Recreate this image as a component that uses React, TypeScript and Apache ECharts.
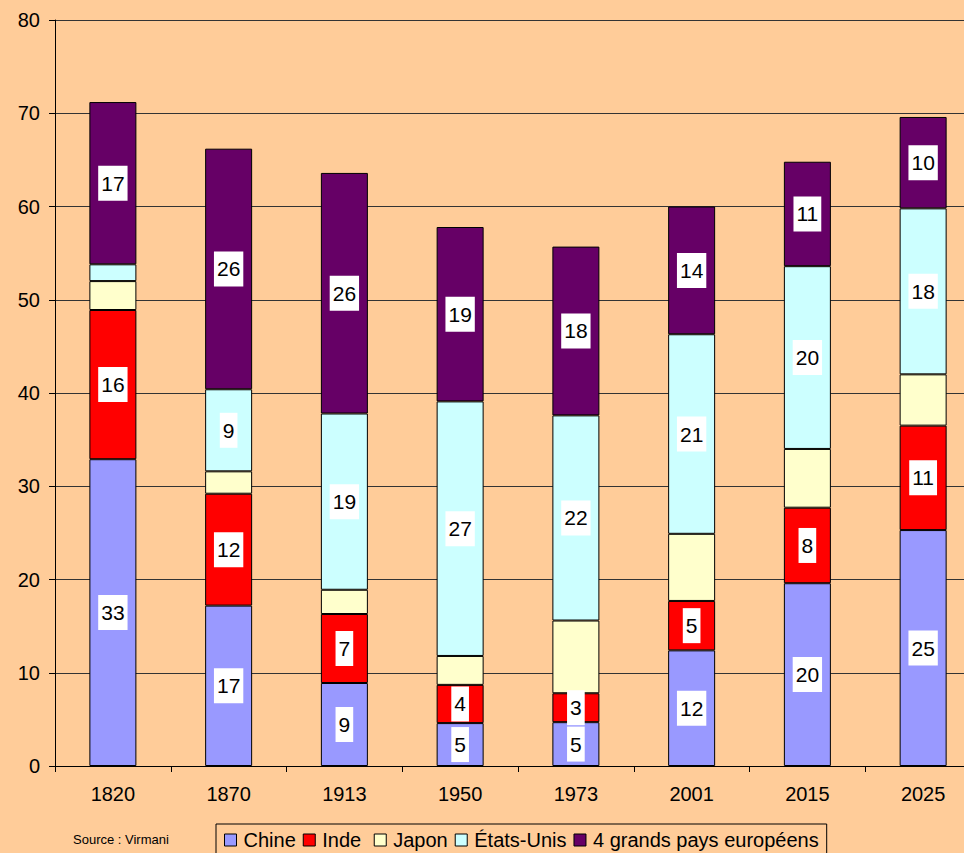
import React, { useEffect, useRef } from "react";
import * as echarts from "echarts";

const years = ["1820", "1870", "1913", "1950", "1973", "2001", "2015", "2025"];
const chine = [32.9, 17.2, 8.9, 4.6, 4.7, 12.4, 19.6, 25.3];
const inde = [16.0, 12.0, 7.4, 4.1, 3.1, 5.3, 8.1, 11.2];
const japon = [3.1, 2.4, 2.6, 3.1, 7.8, 7.2, 6.3, 5.5];
const etatsUnis = [1.8, 8.8, 18.9, 27.3, 22.0, 21.4, 19.6, 17.8];
const europe = [17.4, 25.8, 25.8, 18.7, 18.1, 13.7, 11.2, 9.8];
const yTicks = { min: 0, max: 80, interval: 10 };

const FONT = "Arial, 'Liberation Sans', sans-serif";

export default function App() {
  const ref = useRef<HTMLDivElement>(null);
  useEffect(() => {
    if (!ref.current) return;
    const chart = echarts.init(ref.current, undefined, { renderer: "svg" });
    const labelStyle = {
      show: true,
      position: "inside",
      color: "#000",
      backgroundColor: "#fff",
      fontSize: 21,
      lineHeight: 21,
      fontFamily: FONT,
      padding: [7, 3, 7, 3],
      formatter: (p: any) => String(Math.round(p.value)),
    };
    const mk = (name: string, values: number[], color: string, labels: boolean) => ({
      name,
      type: "bar",
      stack: "total",
      barWidth: 47,
      itemStyle: { color, borderColor: "#000", borderWidth: 1 },
      label: labelStyle,
      data: values.map((v) => ({ value: v, label: { show: labels && v >= 2.5 } })),
    });
    chart.setOption({
      animation: false,
      backgroundColor: "#FFCC99",
      textStyle: { fontFamily: FONT },
      grid: { left: 55, top: 20, bottom: 87, right: 0, containLabel: false },
      xAxis: {
        type: "category",
        data: years,
        axisLine: { lineStyle: { color: "#000", width: 1 } },
        axisTick: { show: true, length: 6, lineStyle: { color: "#000" } },
        axisLabel: { color: "#000", fontSize: 20, fontFamily: FONT, margin: 18 },
      },
      yAxis: {
        type: "value",
        min: yTicks.min,
        max: yTicks.max,
        interval: yTicks.interval,
        axisLine: { show: true, lineStyle: { color: "#000", width: 1 } },
        axisTick: { show: true, length: 6, lineStyle: { color: "#000" } },
        axisLabel: { color: "#000", fontSize: 20, fontFamily: FONT, margin: 15 },
        splitLine: { show: true, lineStyle: { color: "#333", width: 1 } },
      },
      legend: {
        left: 216,
        top: 824,
        orient: "horizontal",
        padding: [6, 8, 6, 8],
        itemGap: 7,
        itemWidth: 12,
        itemHeight: 12,
        icon: "rect",
        borderColor: "#000",
        borderWidth: 1,
        itemStyle: { borderColor: "#000", borderWidth: 1 },
        textStyle: { color: "#000", fontSize: 20, fontFamily: FONT, padding: [0, 0, 0, 2] },
        formatter: (name: string) => (name === "Inde" ? "Inde " : name),
        data: ["Chine", "Inde", "Japon", "États-Unis", "4 grands pays européens"],
      },
      graphic: [
        {
          type: "text",
          left: 73,
          top: 833,
          style: { text: "Source : Virmani", fontSize: 13, fontFamily: FONT, fill: "#000" },
        },
      ],
      series: [
        mk("Chine", chine, "#9999FF", true),
        mk("Inde", inde, "#FF0000", true),
        mk("Japon", japon, "#FFFFCC", false),
        mk("États-Unis", etatsUnis, "#CCFFFF", true),
        mk("4 grands pays européens", europe, "#660066", true),
      ],
    });
    return () => chart.dispose();
  }, []);
  return (
    <div style={{ position: "absolute", left: 0, top: 0, width: 964, height: 853, overflow: "hidden" }}>
      <div ref={ref} style={{ width: 981, height: 853 }} />
    </div>
  );
}
